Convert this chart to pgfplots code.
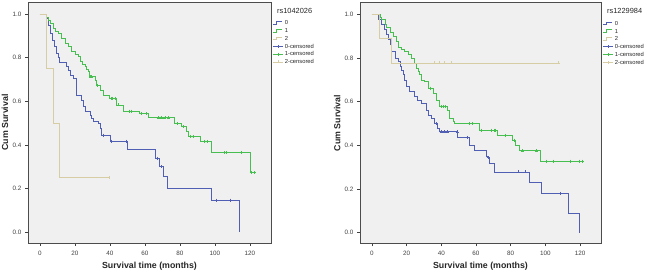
\documentclass[border=0pt]{standalone}
\usepackage{fontspec}
\setmainfont{Liberation Sans}
\usepackage{pgfplots}
\pgfplotsset{compat=1.18}
\definecolor{kmblue}{RGB}{80,95,180}
\definecolor{kmgreen}{RGB}{70,190,80}
\definecolor{kmtan}{RGB}{215,205,165}
\definecolor{kmbg}{RGB}{240,240,240}

\pgfplotsset{
  kmaxis/.style={
    scale only axis, height=241pt,
    xmin=-6.8, xmax=132, ymin=-0.05, ymax=1.055,
    xtick={0,20,40,60,80,100,120}, ytick={0,0.2,0.4,0.6,0.8,1},
    xtick pos=bottom, ytick pos=left, tick align=outside,
    major tick length=3pt,
    tick style={black!75, line width=0.6pt},
    /pgf/number format/assume math mode=true,
    yticklabel style={/pgf/number format/.cd, fixed, fixed zerofill, precision=1},
    tick label style={font=\fontsize{6.3}{7}\selectfont, text=black!75},
    xticklabel style={yshift=-1.2pt},
    axis line style={black!70, line width=0.8pt},
    axis background/.style={fill=kmbg},
    xlabel={Survival time (months)}, ylabel={Cum Survival},
    label style={font=\fontsize{8.8}{10}\selectfont\bfseries, text=black!85},
    xlabel style={at={(axis description cs:0.5,-0.095)}, anchor=center},
    ylabel style={at={(axis description cs:-0.095,0.5)}, anchor=center},
    clip mode=individual,
    legend style={at={(rel axis cs:1,1)}, anchor=north west, xshift=1.5pt, yshift=-16.8pt,
      draw=none, fill=none, font=\fontsize{5.8}{6.5}\selectfont, text=black!85,
      row sep=0pt, inner sep=0pt,
      nodes={inner sep=1.5pt, text height=4.3pt, text depth=0.5pt, anchor=west}},
    legend cell align=left,
  },
  kmline/.style={const plot, line width=0.75pt, mark=none,
    legend image code/.code={\draw[##1] (0pt,-1.2pt) -- (3pt,-1.2pt) -- (3pt,1.4pt) -- (9pt,1.4pt);}},
  kmcens/.style={only marks, mark=+, mark size=1.5pt, line width=0.6pt,
    legend image code/.code={\draw[##1, line width=0.6pt] (0pt,0pt) -- (10pt,0pt); \draw[##1] plot coordinates {(5pt,0pt)};}},
}

\begin{document}
\begin{tikzpicture}
\useasboundingbox (0,0) rectangle (650pt,272pt);

% ---------------- left panel ----------------
\begin{axis}[kmaxis, width=243pt, at={(28pt,29pt)}, anchor=south west]
\addplot[kmline, kmblue] coordinates {
(0,1)(3.8,0.98)(5,0.95)(6,0.91)(7,0.88)(8,0.85)(9.2,0.82)(10.5,0.80)(11.4,0.78)
(15.2,0.76)(16.5,0.743)(17.5,0.72)(19,0.705)(21,0.628)(23.8,0.605)(24.8,0.575)
(25.7,0.552)(28.6,0.537)(29.5,0.52)(30.5,0.506)(33.3,0.499)(34.3,0.476)(35.2,0.445)
(40,0.417)(50,0.379)(66,0.338)(68.5,0.30)(70.5,0.254)(73,0.20)(97.7,0.147)(114,0)};
\addlegendentry{0}
\addplot[kmline, kmgreen] coordinates {
(0,1)(3.8,0.985)(5,0.97)(6,0.955)(7.6,0.934)(9,0.92)(10.5,0.911)(12,0.89)(14.3,0.866)
(16,0.85)(18.1,0.827)(20,0.815)(21.9,0.804)(22.9,0.781)(24.5,0.77)(25.7,0.758)
(26.5,0.745)(27.6,0.735)(28.3,0.712)(31.4,0.697)(32.2,0.674)(34.3,0.651)(36.2,0.628)
(39.5,0.613)(43.8,0.583)(47.6,0.555)(57,0.544)(61.9,0.524)(77,0.50)(81,0.483)
(83.8,0.46)(84.8,0.437)(91.4,0.414)(97.7,0.364)(120,0.272)(122.4,0.272)};
\addlegendentry{1}
\addplot[kmline, kmtan] coordinates {
(0,1)(3.8,0.75)(7.6,0.50)(11,0.25)(39.4,0.25)};
\addlegendentry{2}
\addplot[kmcens, kmblue] coordinates {
(36,0.445)(41,0.417)(49.3,0.417)(67.3,0.338)(69.3,0.30)(101,0.147)(109,0.147)};
\addlegendentry{0-censored}
\addplot[kmcens, kmgreen] coordinates {
(28.8,0.712)(29.6,0.712)(32.8,0.674)(40.5,0.613)(41.6,0.613)(42.8,0.613)(44.8,0.583)
(51,0.555)(52.4,0.555)(58.1,0.544)(61,0.544)(67.6,0.524)(69.5,0.524)(71.4,0.524)
(73.3,0.524)(78.7,0.50)(82,0.483)(85.7,0.437)(87.6,0.437)(94,0.414)(95.8,0.414)
(105.3,0.364)(106.7,0.364)(114.9,0.364)(120.6,0.272)(122.4,0.272)};
\addlegendentry{1-censored}
\addplot[kmcens, kmtan] coordinates {(39.4,0.25)};
\addlegendentry{2-censored}
\node[anchor=west, inner sep=0pt, font=\fontsize{7.4}{8}\selectfont, text=black!85,
  xshift=6pt, yshift=-8.7pt] at (rel axis cs:1,1) {rs1042026};
\end{axis}

% ---------------- right panel ----------------
\begin{axis}[kmaxis, width=241pt, at={(360pt,28.5pt)}, anchor=south west]
\addplot[kmline, kmblue] coordinates {
(0,1)(3.5,0.977)(5.5,0.954)(7,0.931)(8.6,0.908)(9.5,0.885)(10.5,0.862)(11.4,0.831)
(13.3,0.80)(15.2,0.785)(16.2,0.762)(17.1,0.743)(18.1,0.724)(19,0.70)(20,0.67)
(21.9,0.647)(24.7,0.624)(26.5,0.608)(28.6,0.593)(31.4,0.562)(32.4,0.539)(34.3,0.524)
(36.2,0.501)(38,0.48)(39,0.462)(49.5,0.436)(56.2,0.40)(59,0.375)(65.7,0.35)
(66.7,0.343)(67.6,0.317)(70.5,0.278)(90.8,0.232)(97.7,0.178)(113.3,0.089)(119.6,0)};
\addlegendentry{0}
\addplot[kmline, kmgreen] coordinates {
(0,1)(4.7,0.985)(5.7,0.977)(7.6,0.954)(8.6,0.939)(10.5,0.916)(12.4,0.90)(14.3,0.877)
(15.2,0.847)(17.1,0.839)(19,0.831)(20.9,0.816)(22.9,0.80)(24.7,0.777)(25.7,0.754)
(26.7,0.74)(27.6,0.724)(28.6,0.70)(30.5,0.693)(32.4,0.662)(35.2,0.639)(37.1,0.608)
(39,0.577)(43.8,0.562)(44.8,0.524)(46.7,0.508)(47.6,0.50)(61.9,0.47)(72.3,0.447)
(81,0.424)(82.9,0.40)(84.8,0.375)(97.1,0.328)(121.5,0.328)};
\addlegendentry{1}
\addplot[kmline, kmtan] coordinates {
(0,1)(4.3,0.889)(11,0.778)(107.6,0.778)};
\addlegendentry{2}
\addplot[kmcens, kmblue] coordinates {
(37,0.501)(39.9,0.462)(41.8,0.462)(43.7,0.462)(49.1,0.462)(55.2,0.436)(67,0.343)
(84.4,0.278)(88.2,0.278)(108.6,0.178)};
\addlegendentry{0-censored}
\addplot[kmcens, kmgreen] coordinates {
(33.5,0.662)(39.8,0.577)(41,0.577)(42.5,0.577)(56.2,0.50)(58,0.50)(63,0.47)
(68.6,0.47)(70.5,0.47)(71.4,0.47)(77,0.447)(82,0.424)(86.7,0.375)(94.8,0.375)
(100.6,0.328)(104.7,0.328)(114.3,0.328)(119.6,0.328)(121.5,0.328)};
\addlegendentry{1-censored}
\addplot[kmcens, kmtan] coordinates {
(36,0.778)(39,0.778)(42,0.778)(45.6,0.778)(107.6,0.778)};
\addlegendentry{2-censored}
\node[anchor=west, inner sep=0pt, font=\fontsize{7.4}{8}\selectfont, text=black!85,
  xshift=6pt, yshift=-8.7pt] at (rel axis cs:1,1) {rs1229984};
\end{axis}
\end{tikzpicture}
\end{document}
